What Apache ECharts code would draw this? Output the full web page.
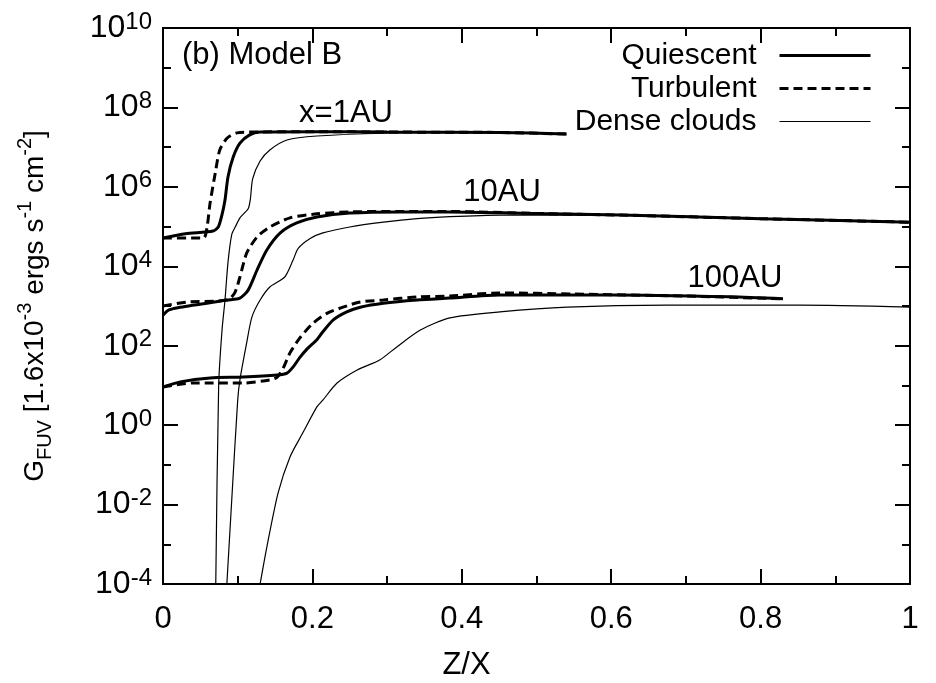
<!DOCTYPE html>
<html>
<head>
<meta charset="utf-8">
<script src="https://cdn.jsdelivr.net/npm/echarts@6/dist/echarts.min.js"></script>
<style>
  html, body { margin: 0; padding: 0; background: #fff; }
  #main { width: 936px; height: 683px; }
</style>
</head>
<body>
<div id="main"></div>
<script>
// x = Z/X, values are log10(G_FUV)

// x = 1AU
var q1X = [0, 0.03, 0.067, 0.074, 0.079, 0.083, 0.087, 0.094, 0.103, 0.116, 0.13, 0.2, 0.3, 0.45, 0.54];
var q1Log = [4.71, 4.82, 4.89, 4.99, 5.3, 5.67, 6.25, 6.75, 7.10, 7.31, 7.38, 7.39, 7.38, 7.37, 7.33];
var t1X = [0, 0.054, 0.059, 0.063, 0.070, 0.076, 0.086, 0.099, 0.12, 0.2, 0.3, 0.45, 0.54];
var t1Log = [4.71, 4.71, 4.99, 5.59, 6.35, 6.93, 7.23, 7.36, 7.38, 7.39, 7.38, 7.37, 7.33];
var d1X = [0.0705, 0.0745, 0.079, 0.083, 0.087, 0.092, 0.097, 0.103, 0.114, 0.117, 0.120, 0.130, 0.143, 0.166, 0.206, 0.295, 0.424, 0.54];
var d1Log = [-4.2, 1.0, 2.39, 3.15, 4.1, 4.8, 5.0, 5.22, 5.45, 5.7, 6.2, 6.65, 6.93, 7.18, 7.28, 7.35, 7.37, 7.33];

// 10AU
var q10X = [0, 0.008, 0.023, 0.086, 0.103, 0.114, 0.126, 0.139, 0.157, 0.179, 0.206, 0.25, 0.317, 0.384, 0.5, 0.612, 0.8, 1.0];
var q10Log = [2.77, 2.9, 2.97, 3.15, 3.2, 3.4, 3.91, 4.41, 4.84, 5.09, 5.24, 5.34, 5.37, 5.37, 5.33, 5.29, 5.2, 5.11];
var t10X = [0, 0.032, 0.086, 0.096, 0.103, 0.112, 0.126, 0.143, 0.170, 0.206, 0.25, 0.317, 0.384, 0.5, 0.612, 0.8, 1.0];
var t10Log = [3.0, 3.10, 3.15, 3.33, 3.73, 4.33, 4.74, 4.99, 5.22, 5.32, 5.37, 5.38, 5.38, 5.33, 5.29, 5.2, 5.11];
var d10X = [0.0855, 0.092, 0.100, 0.103, 0.112, 0.119, 0.130, 0.143, 0.163, 0.174, 0.181, 0.197, 0.214, 0.25, 0.295, 0.34, 0.384, 0.451, 0.612, 0.8, 1.0];
var d10Log = [-4, -1.89, 0.63, 1.14, 2.07, 2.72, 3.15, 3.48, 3.73, 4.15, 4.45, 4.7, 4.84, 4.99, 5.11, 5.2, 5.25, 5.29, 5.29, 5.2, 5.11];

// 100AU
var q100X = [0, 0.023, 0.063, 0.107, 0.153, 0.166, 0.174, 0.183, 0.193, 0.206, 0.214, 0.228, 0.246, 0.264, 0.295, 0.34, 0.384, 0.45, 0.6, 0.76, 0.83];
var q100Log = [0.96, 1.09, 1.19, 1.21, 1.26, 1.31, 1.46, 1.70, 1.92, 2.15, 2.35, 2.65, 2.85, 2.97, 3.07, 3.15, 3.20, 3.28, 3.28, 3.23, 3.18];
var t100X = [0, 0.04, 0.107, 0.143, 0.153, 0.161, 0.170, 0.183, 0.201, 0.220, 0.241, 0.264, 0.295, 0.34, 0.384, 0.45, 0.55, 0.7, 0.83];
var t100Log = [0.96, 1.06, 1.06, 1.14, 1.21, 1.44, 1.82, 2.19, 2.57, 2.82, 2.97, 3.10, 3.15, 3.23, 3.25, 3.33, 3.30, 3.25, 3.18];
var d100X = [0.130, 0.139, 0.154, 0.170, 0.187, 0.206, 0.214, 0.233, 0.26, 0.29, 0.313, 0.344, 0.384, 0.451, 0.541, 0.675, 0.853, 1.0];
var d100Log = [-4, -3.07, -1.71, -0.8, -0.2, 0.46, 0.63, 1.06, 1.39, 1.64, 1.97, 2.39, 2.7, 2.85, 2.97, 3.02, 3.02, 2.97];

var xTicks = [0, 0.2, 0.4, 0.6, 0.8, 1];
var curveLabels = ['x=1AU', '10AU', '100AU'];
var panelTitle = '(b) Model B';

var FONT = '"Liberation Sans", Arial, sans-serif';

function pts(xs, logs) {
    return xs.map(function (x, i) { return [x, Math.pow(10, logs[i])]; });
}

var styles = {
    'Quiescent': {width: 3, type: 'solid'},
    'Turbulent': {width: 3, type: [9, 5]},
    'Dense clouds': {width: 1.2, type: 'solid'}
};

function line(name, xs, logs) {
    return {
        name: name,
        type: 'line',
        data: pts(xs, logs),
        xAxisIndex: 0,
        yAxisIndex: 0,
        symbol: 'none',
        smooth: 0.25,
        silent: true,
        lineStyle: {color: '#000', width: styles[name].width, type: styles[name].type},
        itemStyle: {color: '#000'}
    };
}

var chart = echarts.init(document.getElementById('main'));

var tickStyle = {color: '#000', width: 2};
var supLabel = {
    b: {fontSize: 32, lineHeight: 32, padding: [16, 0, 0, 0], verticalAlign: 'bottom', color: '#000', fontFamily: FONT},
    sup: {fontSize: 24, lineHeight: 32, padding: [16, 0, 10, 0], verticalAlign: 'bottom', color: '#000', fontFamily: FONT}
};

function yAxis(pos, interval, len, labels) {
    return {
        type: 'log',
        logBase: 10,
        position: pos,
        min: 1e-4,
        max: 1e10,
        interval: interval,
        axisLine: {show: true, lineStyle: {color: '#000', width: 2}},
        axisTick: {show: true, inside: true, length: len, lineStyle: tickStyle},
        splitLine: {show: false},
        axisLabel: labels ? {
            show: true,
            margin: 11,
            formatter: function (v) {
                return '{b|10}{sup|' + Math.round(Math.log10(v)) + '}';
            },
            rich: supLabel
        } : {show: false},
        name: labels ? 'G{sub|FUV} [1.6x10{sup|-3} ergs s{sup|-1} cm{sup|-2}]' : '',
        nameLocation: 'middle',
        nameRotate: 90,
        nameGap: 108,
        nameTextStyle: {
            fontSize: 28, fontFamily: FONT, color: '#000', lineHeight: 40,
            rich: {
                sub: {fontSize: 20, lineHeight: 20, verticalAlign: 'bottom', fontFamily: FONT, color: '#000'},
                sup: {fontSize: 20, lineHeight: 20, verticalAlign: 'top', fontFamily: FONT, color: '#000'}
            }
        }
    };
}

function xAxis(pos, labels) {
    return {
        type: 'value',
        position: pos,
        min: 0,
        max: 1,
        interval: 0.2,
        axisLine: {show: true, onZero: false, lineStyle: {color: '#000', width: 2}},
        axisTick: {show: true, inside: true, length: 15, lineStyle: tickStyle},
        minorTick: {show: true, splitNumber: 2, length: 8, lineStyle: tickStyle},
        splitLine: {show: false},
        axisLabel: labels ? {
            show: true, margin: 20, fontSize: 31, fontFamily: FONT, color: '#000',
            formatter: function (v) {
                for (var i = 0; i < xTicks.length; i++) {
                    if (Math.abs(xTicks[i] - v) < 1e-9) return String(xTicks[i]);
                }
                return '';
            }
        } : {show: false},
        name: labels ? 'Z/X' : '',
        nameLocation: 'middle',
        nameGap: 66,
        nameTextStyle: {fontSize: 31, fontFamily: FONT, color: '#000', padding: [0, 140, 0, 0]}
    };
}

var txt = {fontSize: 31, fontFamily: FONT, fill: '#000'};

chart.setOption({
    animation: false,
    backgroundColor: '#fff',
    grid: {left: 163, right: 26, top: 28, bottom: 99, containLabel: false, outerBoundsMode: 'none'},
    legend: {
        orient: 'vertical',
        right: 64,
        top: 39,
        padding: 0,
        align: 'right',
        itemWidth: 91,
        itemHeight: 14,
        itemGap: 0,
        selectedMode: false,
        itemStyle: {color: 'rgba(0,0,0,0)', borderWidth: 0},
        textStyle: {fontSize: 30, fontFamily: FONT, color: '#000', lineHeight: 33, padding: [0, 18, 0, 0]},
        data: [
            {name: 'Quiescent', lineStyle: {color: '#000', width: 3, type: 'solid'}},
            {name: 'Turbulent', lineStyle: {color: '#000', width: 3, type: [9, 5]}},
            {name: 'Dense clouds', lineStyle: {color: '#000', width: 1.2, type: 'solid'}}
        ]
    },
    xAxis: [xAxis('bottom', true), xAxis('top', false)],
    yAxis: [
        yAxis('left', 2, 15, true),
        yAxis('left', 1, 8, false),
        yAxis('right', 2, 15, false),
        yAxis('right', 1, 8, false)
    ],
    graphic: [
        {type: 'text', left: 182, top: 40, style: Object.assign({text: panelTitle}, txt)},
        {type: 'text', x: 346, y: 113, style: Object.assign({text: curveLabels[0], align: 'center', verticalAlign: 'middle'}, txt)},
        {type: 'text', x: 502, y: 192, style: Object.assign({text: curveLabels[1], align: 'center', verticalAlign: 'middle'}, txt)},
        {type: 'text', x: 735, y: 278, style: Object.assign({text: curveLabels[2], align: 'center', verticalAlign: 'middle'}, txt)}
    ],
    series: [
        line('Quiescent', q1X, q1Log),
        line('Turbulent', t1X, t1Log),
        line('Dense clouds', d1X, d1Log),
        line('Quiescent', q10X, q10Log),
        line('Turbulent', t10X, t10Log),
        line('Dense clouds', d10X, d10Log),
        line('Quiescent', q100X, q100Log),
        line('Turbulent', t100X, t100Log),
        line('Dense clouds', d100X, d100Log)
    ]
});
</script>
</body>
</html>
